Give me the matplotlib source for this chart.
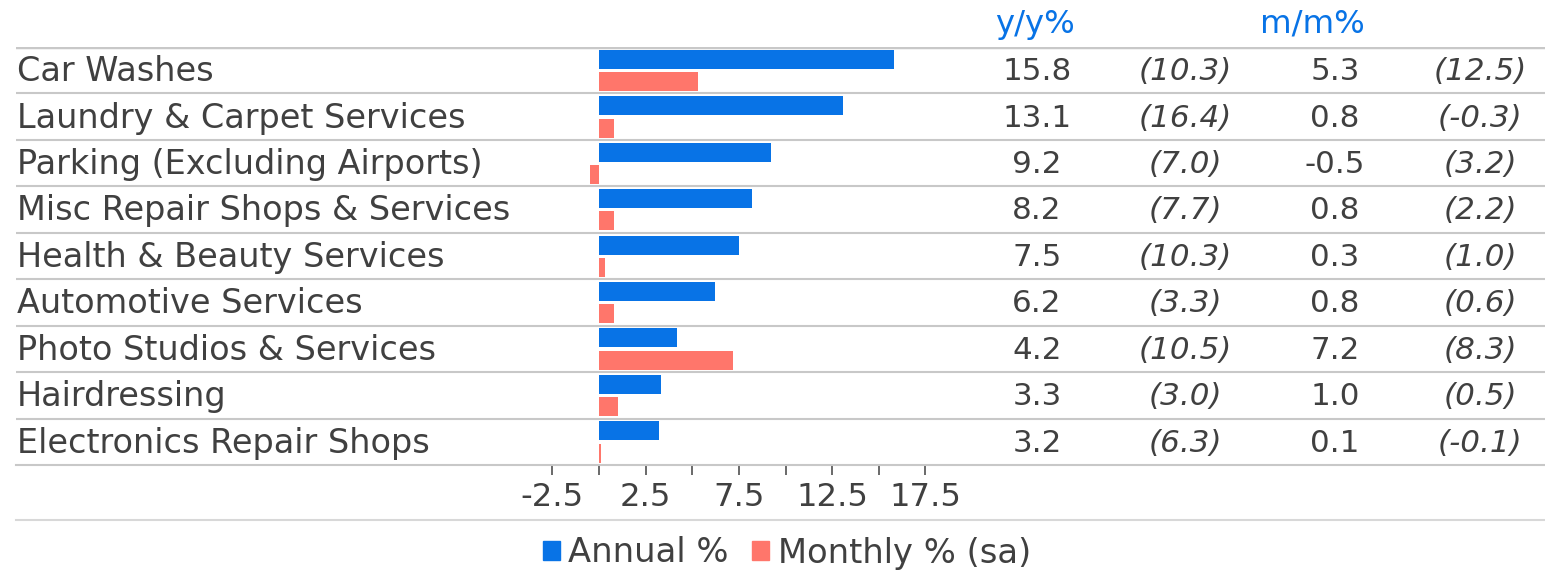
import matplotlib.pyplot as plt
import matplotlib.patches as mpatches
from matplotlib.transforms import blended_transform_factory
import numpy as np

plt.rcParams['font.family'] = ['DejaVu Sans']

categories = ['Car Washes', 'Laundry & Carpet Services', 'Parking (Excluding Airports)',
              'Misc Repair Shops & Services', 'Health & Beauty Services',
              'Automotive Services', 'Photo Studios & Services', 'Hairdressing',
              'Electronics Repair Shops']
annual = [15.8, 13.1, 9.2, 8.2, 7.5, 6.2, 4.2, 3.3, 3.2]
annual_prev = [10.3, 16.4, 7.0, 7.7, 10.3, 3.3, 10.5, 3.0, 6.3]
monthly = [5.3, 0.8, -0.5, 0.8, 0.3, 0.8, 7.2, 1.0, 0.1]
monthly_prev = [12.5, -0.3, 3.2, 2.2, 1.0, 0.6, 8.3, 0.5, -0.1]
ticks = [-2.5, 0, 2.5, 5, 7.5, 10, 12.5, 15, 17.5]
tick_labels = ['-2.5', '', '2.5', '', '7.5', '', '12.5', '', '17.5']

blue = '#0873e6'
red = '#ff766b'
txt = '#404040'
grid = '#c8c8c8'

W, H = 1545, 571
fig = plt.figure(figsize=(W / 100, H / 100), dpi=100)
x0, x1, ytop, ybot = 16, 1545, 47, 465
ax = fig.add_axes([x0 / W, 1 - ybot / H, (x1 - x0) / W, (ybot - ytop) / H])

scale = 18.65
zero = 599
ax.set_xlim((x0 - zero) / scale, (x1 - zero) / scale)
n = len(categories)
ax.set_ylim(n - 0.5, -0.5)

y = np.arange(n)
ax.barh(y - 0.235, annual, height=0.41, color=blue)
ax.barh(y + 0.245, monthly, height=0.41, color=red)

for i in range(n - 1):
    ax.axhline(i + 0.5, color=grid, lw=1.5)
ax.axhline(-0.5, color=grid, lw=2.5)

for s in ['top', 'right', 'left']:
    ax.spines[s].set_visible(False)
ax.spines['bottom'].set_color(grid)
ax.spines['bottom'].set_linewidth(1.5)
ax.set_yticks([])
ax.set_xticks(ticks)
ax.set_xticklabels(tick_labels)
ax.tick_params(axis='x', direction='out', length=7, width=1.2, color='#505050',
               labelsize=23.2, labelcolor=txt, pad=5)

tr = blended_transform_factory(ax.transAxes, ax.transData)
def fx(px):
    return (px - x0) / (x1 - x0)

for i in range(n):
    ax.text(fx(17), i + 0.03, categories[i], transform=tr, ha='left', va='center',
            fontsize=24.1, color=txt)
    ax.text(fx(1037), i + 0.03, f'{annual[i]:.1f}', transform=tr, ha='center', va='center',
            fontsize=22.3, color=txt)
    ax.text(fx(1185), i + 0.03, f'({annual_prev[i]:.1f})', transform=tr, ha='center', va='center',
            fontsize=22.3, color=txt, style='italic')
    ax.text(fx(1335), i + 0.03, f'{monthly[i]:.1f}', transform=tr, ha='center', va='center',
            fontsize=22.3, color=txt)
    ax.text(fx(1480), i + 0.03, f'({monthly_prev[i]:.1f})', transform=tr, ha='center', va='center',
            fontsize=22.3, color=txt, style='italic')

fig.text(1035 / W, 1 - 24 / H, 'y/y%', ha='center', va='center', fontsize=23.3, color=blue)
fig.text(1312 / W, 1 - 24 / H, 'm/m%', ha='center', va='center', fontsize=23.3, color=blue)

# bottom rule under tick labels
fig.add_artist(plt.Line2D([x0 / W, x1 / W], [1 - 520 / H, 1 - 520 / H], color='#d8d8d8', lw=1.5))

handles = [mpatches.Patch(color=blue, label='Annual %'),
           mpatches.Patch(color=red, label='Monthly % (sa)')]
fig.legend(handles=handles, loc='center', bbox_to_anchor=(787 / W, 1 - 553 / H), ncol=2,
           frameon=False, fontsize=24.3, handlelength=0.5, handleheight=0.5,
           handletextpad=0.25, columnspacing=0.7, labelcolor=txt, borderaxespad=0)

fig.savefig('out.png', dpi=100)
